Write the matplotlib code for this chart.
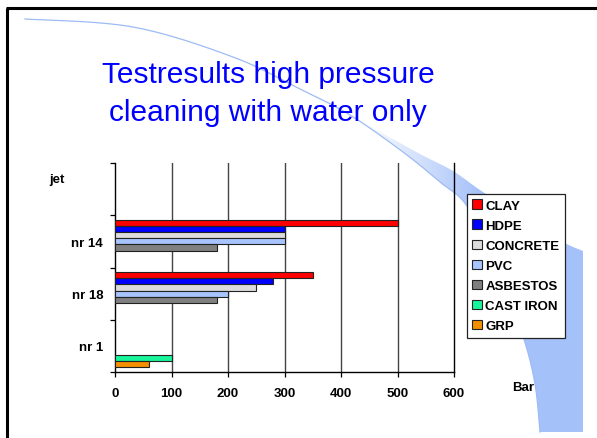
import numpy as np
import matplotlib
matplotlib.use('Agg')
import matplotlib.pyplot as plt
from matplotlib.patches import Polygon

plt.rcParams['font.family'] = ['Liberation Sans', 'DejaVu Sans']

# data (Bar) per jet, order: nr 14, nr 18, nr 1
jets = ['nr 14', 'nr 18', 'nr 1']
materials = ['CLAY', 'HDPE', 'CONCRETE', 'PVC', 'ASBESTOS', 'CAST IRON', 'GRP']
clay = [500, 350, 0]
hdpe = [300, 280, 0]
concrete = [300, 250, 0]
pvc = [300, 200, 0]
asbestos = [180, 180, 0]
cast_iron = [0, 0, 100]
grp = [0, 0, 60]
x_ticks = [0, 100, 200, 300, 400, 500, 600]

series = [clay, hdpe, concrete, pvc, asbestos, cast_iron, grp]
colors = ['#FF0000', '#0000FF', '#DCDCDC', '#A8C4FF', '#808080', '#19F59A', '#F29000']

W, H = 597, 439
fig = plt.figure(figsize=(W / 100, H / 100), dpi=100)
fig.patch.set_facecolor('white')


def catmull(pts, n=20):
    pts = np.asarray(pts, float)
    p = np.vstack([pts[0], pts, pts[-1]])
    out = []
    for i in range(1, len(p) - 2):
        p0, p1, p2, p3 = p[i - 1], p[i], p[i + 1], p[i + 2]
        for t in np.linspace(0, 1, n, endpoint=False):
            t2, t3 = t * t, t * t * t
            out.append(0.5 * ((2 * p1) + (-p0 + p2) * t + (2 * p0 - 5 * p1 + 4 * p2 - p3) * t2
                              + (-p0 + 3 * p1 - 3 * p2 + p3) * t3))
    out.append(p[-2])
    return np.array(out)


# background decoration (slide swoosh), pixel coords
bg = fig.add_axes([0, 0, 1, 1], zorder=-2)
bg.axis('off')

lower = catmull([(25, 20), (133, 28), (233, 58), (300, 90), (350, 116), (403, 153),
                 (440, 183), (467, 207), (497, 265), (523, 337), (535, 385), (540, 433)])
upper = catmull([(340, 111), (373, 129), (420, 155), (453, 172), (483, 193),
                 (530, 222), (563, 243), (583, 252)])
start = lower[lower[:, 0] <= 340]
poly = np.vstack([start, upper, [(583, 433)], lower[::-1][lower[::-1][:, 0] > 340]])
patch = Polygon(poly, closed=True, facecolor='none', edgecolor='none')
bg.add_patch(patch)

grad = np.zeros((H, W, 4))
grad[..., 0] = 0.65
grad[..., 1] = 0.76
grad[..., 2] = 0.98
xx = np.arange(W)[None, :]
grad[..., 3] = np.clip((xx - 360) / 120.0, 0.0, 1.0)
im = bg.imshow(grad, extent=(0, W, H, 0), origin='upper', interpolation='bilinear')
im.set_clip_path(patch)
bg.plot(lower[:, 0], lower[:, 1], color='#9DBBF5', lw=0.9)
bg.plot([7, 7], [9, H], color='black', lw=2.2, solid_capstyle='butt')
bg.plot([6, W], [9, 9], color='black', lw=2.2, solid_capstyle='butt')
bg.set_xlim(0, W)
bg.set_ylim(H, 0)

fig.text(268 / W, 1 - 94 / H, 'Testresults high pressure\ncleaning with water only',
         ha='center', va='center', color='#0000FF', fontsize=21.5, linespacing=1.42)

# chart
ax = fig.add_axes([115 / W, 1 - 373 / H, 339 / W, 209 / H])
ax.patch.set_alpha(0)

n = len(series)
bar_h = 0.1167
gap = (1 - n * bar_h) / 2
ypos = np.array([2, 1, 0])
for i, (vals, name, col) in enumerate(zip(series, materials, colors)):
    yc = ypos + 0.5 - gap - (i + 0.5) * bar_h
    vals = np.array(vals, float)
    mask = vals > 0
    ax.barh(yc[mask], vals[mask], height=bar_h, color=col, edgecolor='#222222',
            linewidth=0.8, label=name, zorder=3)

ax.set_xlim(0, 600)
ax.set_ylim(-0.5, 3.5)
ax.set_xticks(x_ticks)
ax.set_xticklabels([str(v) for v in x_ticks], fontsize=9.5, fontweight='bold')
ax.set_yticks(ypos)
ax.set_yticklabels(jets, fontsize=9.5, fontweight='bold')
ax.tick_params(axis='y', length=0, pad=8.5)
ax.set_yticks([-0.5, 0.5, 1.5, 2.5, 3.5], minor=True)
ax.tick_params(axis='y', which='minor', length=3.5, width=0.9, direction='out')
ax.tick_params(axis='x', length=3.5, width=0.9, direction='out', pad=7.5)
for v in x_ticks[1:-1]:
    ax.axvline(v, color='#444444', lw=1.0, zorder=1)
ax.spines['top'].set_visible(False)
for s in ('left', 'right', 'bottom'):
    ax.spines[s].set_linewidth(1.0)
    ax.spines[s].set_color('black')

fig.text(57 / W, 1 - 180 / H, 'jet', ha='center', va='center', fontsize=9.5, fontweight='bold')
fig.text(523 / W, 1 - 388 / H, 'Bar', ha='center', va='center', fontsize=9.5, fontweight='bold')

leg = ax.legend(loc='upper left', bbox_to_anchor=(467 / W, 1 - 195 / H), bbox_transform=fig.transFigure,
                borderaxespad=0, frameon=True, fancybox=False, framealpha=1, edgecolor='#222222',
                prop={'size': 9.5, 'weight': 'bold'}, handlelength=0.7, handleheight=0.7,
                handletextpad=0.3, labelspacing=0.6, borderpad=0.4)
leg.get_frame().set_linewidth(0.9)

fig.savefig('out.png', dpi=100)
